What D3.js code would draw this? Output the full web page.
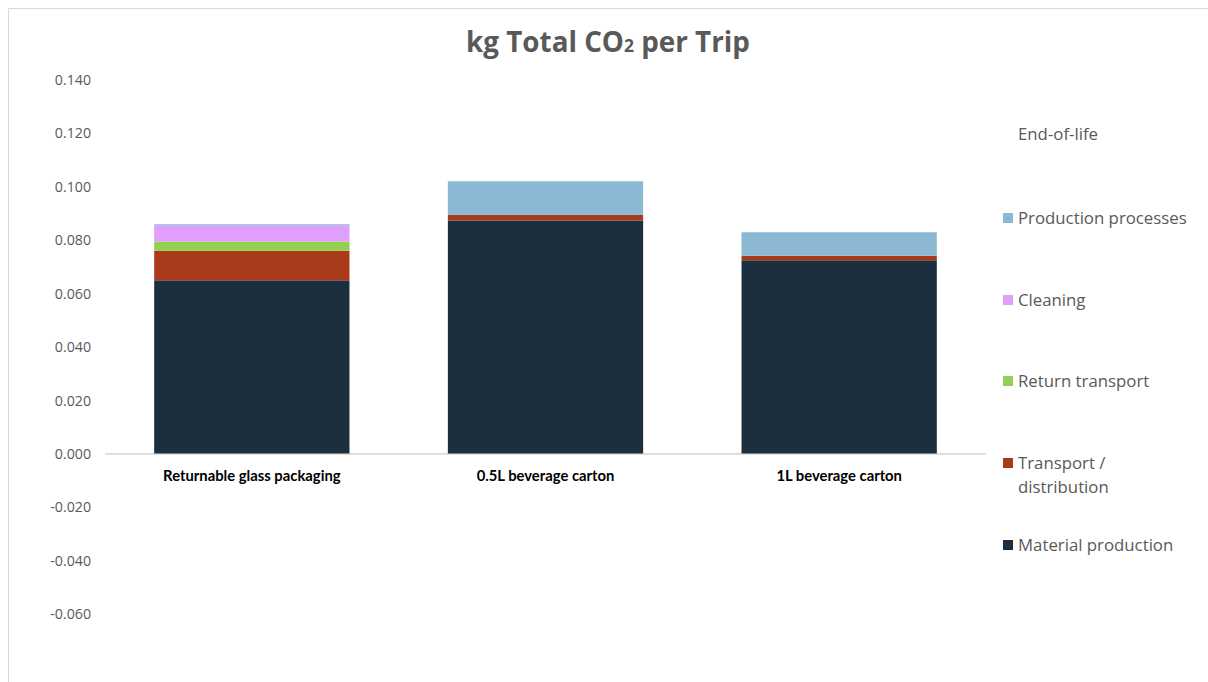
<!DOCTYPE html>
<html>
<head>
<meta charset="utf-8">
<script src="https://cdn.jsdelivr.net/npm/d3@7"></script>
<style>
  body { margin: 0; background: #fff; }
  svg { display: block; font-family: Lato, "Open Sans", sans-serif; }
</style>
</head>
<body>
<svg id="chart" width="1208" height="682"></svg>
<script>
// Packaging options compared
const categories = ["Returnable glass packaging", "0.5L beverage carton", "1L beverage carton"];

// kg CO2 per trip, by life-cycle stage (stacked bottom to top)
const materialProduction   = [0.0650, 0.0874, 0.0725];
const transportDistribution = [0.0111, 0.0021, 0.0017];
const returnTransport      = [0.0034, 0.0000, 0.0000];
const cleaning             = [0.0061, 0.0000, 0.0000];
const productionProcesses  = [0.0004, 0.0126, 0.0088];
const endOfLife            = [0.0000, 0.0000, 0.0000];

const seriesNames = ["Material production", "Transport / distribution", "Return transport",
                     "Cleaning", "Production processes", "End-of-life"];
const seriesColors = ["#1b2f3e", "#a93b1a", "#92d050", "#e09ffc", "#8bb9d4", "#ffffff"];

const yTicks = [-0.06, -0.04, -0.02, 0, 0.02, 0.04, 0.06, 0.08, 0.10, 0.12, 0.14];

const seriesValues = [materialProduction, transportDistribution, returnTransport,
                      cleaning, productionProcesses, endOfLife];

const rows = categories.map((c, i) => {
  const r = { category: c };
  seriesNames.forEach((s, k) => r[s] = seriesValues[k][i]);
  return r;
});

const svg = d3.select("#chart");
const textColor = "#595959";

// chart frame
svg.append("path")
  .attr("d", "M8.5,682 L8.5,8.5 L1208,8.5")
  .attr("fill", "none").attr("stroke", "#d9d9d9").attr("stroke-width", 1);

const x = d3.scaleBand().domain(categories).range([105, 986]).paddingInner(0.335).paddingOuter(0.1675);
const y = d3.scaleLinear().domain([-0.06, 0.14]).range([614.2, 80]);

const stack = d3.stack().keys(seriesNames).offset(d3.stackOffsetDiverging);
const stacked = stack(rows);

svg.append("g").selectAll("g")
  .data(stacked)
  .join("g")
  .attr("fill", (d, i) => seriesColors[i])
  .selectAll("rect")
  .data(d => d)
  .join("rect")
  .attr("x", d => x(d.data.category))
  .attr("width", x.bandwidth())
  .attr("y", d => y(d[1]))
  .attr("height", d => Math.max(0, y(d[0]) - y(d[1])));

// zero line
svg.append("line")
  .attr("x1", 105).attr("x2", 986)
  .attr("y1", y(0)).attr("y2", y(0))
  .attr("stroke", "#bfbfbf").attr("stroke-width", 1);

// y axis labels (plain hyphen for negatives)
const fmt = d3.format(".3f");
const yAxis = d3.axisLeft(y).tickValues(yTicks)
  .tickFormat(d => fmt(d).replace("\u2212", "-")).tickSize(0).tickPadding(0);
const yg = svg.append("g").attr("transform", "translate(91,0)").call(yAxis);
yg.select(".domain").remove();
yg.selectAll("text").attr("fill", textColor).style("font-size", "14.2px")
  .style("font-family", "'Open Sans', sans-serif");

// category labels
const xAxis = d3.axisBottom(x).tickSize(0).tickPadding(0);
const xg = svg.append("g").attr("transform", "translate(0,470)").call(xAxis);
xg.select(".domain").remove();
xg.selectAll("text").attr("fill", "#000").style("font-size", "14.8px").style("font-weight", "bold")
  .style("font-family", "Lato, sans-serif");

// title
const title = svg.append("text")
  .attr("x", 608).attr("y", 52).attr("text-anchor", "middle")
  .attr("fill", textColor).style("font-size", "27.8px").style("font-weight", "bold")
  .style("font-family", "'Open Sans', sans-serif");
title.append("tspan").text("kg Total CO");
title.append("tspan").text("2").style("font-size", "17.5px");
title.append("tspan").text(" per Trip");

// legend (top-down in reverse stacking order)
const legendItems = [
  { name: "End-of-life", lines: ["End-of-life"], y: 134 },
  { name: "Production processes", lines: ["Production processes"], y: 218 },
  { name: "Cleaning", lines: ["Cleaning"], y: 300 },
  { name: "Return transport", lines: ["Return transport"], y: 381 },
  { name: "Transport / distribution", lines: ["Transport /", "distribution"], y: 463 },
  { name: "Material production", lines: ["Material production"], y: 545 }
];
const lg = svg.append("g");
legendItems.forEach(item => {
  const ci = seriesNames.indexOf(item.name);
  lg.append("rect")
    .attr("x", 1003).attr("y", item.y - 5).attr("width", 10).attr("height", 10)
    .attr("fill", seriesColors[ci]);
  const t = lg.append("text").attr("x", 1018).attr("y", item.y + 5.8)
    .attr("fill", textColor).style("font-size", "16.8px")
    .style("font-family", "'Open Sans', sans-serif");
  item.lines.forEach((l, j) => t.append("tspan").attr("x", 1018).attr("dy", j === 0 ? 0 : 24).text(l));
});
</script>
</body>
</html>
